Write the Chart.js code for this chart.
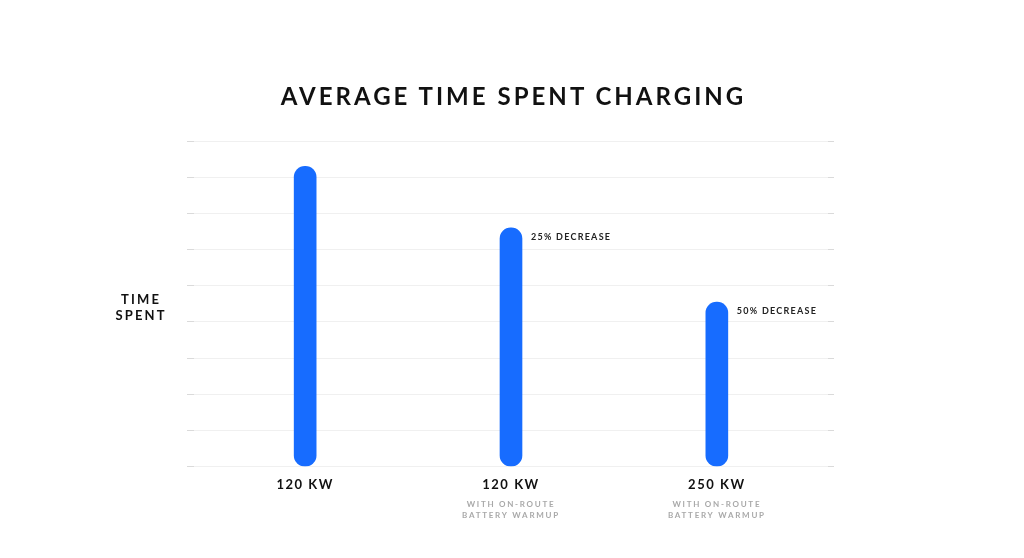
<!DOCTYPE html>
<html><head><meta charset="utf-8">
<script src="https://cdn.jsdelivr.net/npm/chart.js@4"></script>
<style>
html,body{margin:0;padding:0;background:#fff;}
#wrap{position:relative;width:1024px;height:558px;overflow:hidden;}
canvas{position:absolute;left:0;top:0;}
#title{position:absolute;left:0;width:1024px;top:80px;text-align:center;font:700 24px Lato;color:#111;line-height:32px;white-space:nowrap;}
#ytitle{position:absolute;left:90px;width:100px;top:291px;text-align:center;font:700 13px Lato;line-height:16px;color:#111;}
</style></head>
<body><div id="wrap"><canvas id="c" width="1024" height="558"></canvas><div id="title"></div><div id="ytitle"></div></div>
<script>
// ---- data ----
const chartTitle = 'AVERAGE TIME SPENT CHARGING';
const yAxisTitle = ['TIME', 'SPENT'];
const categories = ['120 KW', '120 KW', '250 KW'];
const subLabels = [[], ['WITH ON-ROUTE', 'BATTERY WARMUP'], ['WITH ON-ROUTE', 'BATTERY WARMUP']];
const timeSpent = [8.3, 6.6, 4.55];
const annotations = ['', '25% DECREASE', '50% DECREASE'];
const yMin = 0, yMax = 9, yStep = 1;

// ---- letter-spacing helper ----
const mctx = document.createElement('canvas').getContext('2d');
function fitSpacing(text, font, target) {
  mctx.font = font;
  const w = mctx.measureText(text).width;
  return Math.max(0, (target - w) / (text.length - 1));
}
const titleFont = '700 24px Lato';
const tickFontStr = 'bold 13px Lato';
const subFontStr = 'bold 8px Lato';
const annFontStr = 'bold 9px Lato';
const titleSp = fitSpacing(chartTitle, titleFont, 464);
const ySp = fitSpacing('SPENT', 'bold 13px Lato', 49);
const tickSp = fitSpacing('120 KW', tickFontStr, 56);
const subSp = fitSpacing('WITH ON-ROUTE', subFontStr, 87);
const annSp = fitSpacing('25% DECREASE', annFontStr, 79);

const t = document.getElementById('title');
t.textContent = chartTitle;
t.style.letterSpacing = titleSp + 'px';
t.style.paddingLeft = titleSp + 'px';
t.style.boxSizing = 'border-box';
const yt = document.getElementById('ytitle');
yt.innerHTML = yAxisTitle.join('<br>');
yt.style.letterSpacing = ySp + 'px';
yt.style.paddingLeft = ySp + 'px';
yt.style.boxSizing = 'border-box';

const xMin = -0.54, xMax = 2.54;
const setTicks = s => { s.ticks = categories.map((_, i) => ({ value: i })); };

const spacingPlugin = {
  id: 'spacing',
  beforeDraw(chart) {
    [['x', tickSp], ['x2', subSp]].forEach(([id, sp]) => {
      const s = chart.scales[id];
      if (s && !s._spWrapped) {
        const orig = s.drawLabels.bind(s);
        s.drawLabels = function (a) {
          const c = this.ctx; c.save();
          if ('letterSpacing' in c) c.letterSpacing = sp + 'px';
          orig(a); c.restore();
        };
        s._spWrapped = true;
      }
    });
  }
};
const annotPlugin = {
  id: 'annot',
  afterDatasetsDraw(chart) {
    const meta = chart.getDatasetMeta(0);
    const c = chart.ctx;
    c.save();
    c.font = annFontStr;
    c.fillStyle = '#222';
    c.textBaseline = 'middle';
    c.textAlign = 'left';
    if ('letterSpacing' in c) c.letterSpacing = annSp + 'px';
    meta.data.forEach((bar, i) => {
      if (!annotations[i]) return;
      const p = bar.getProps(['x', 'y', 'width'], true);
      c.fillText(annotations[i], p.x + p.width / 2 + 9, p.y + 9.5);
    });
    c.restore();
  }
};

new Chart(document.getElementById('c'), {
  type: 'bar',
  data: {
    datasets: [{
      data: timeSpent.map((v, i) => ({ x: i, y: v })),
      xAxisID: 'x', yAxisID: 'y',
      backgroundColor: '#176cff',
      barThickness: 22,
      borderRadius: 11,
      borderSkipped: false
    }]
  },
  options: {
    responsive: false,
    animation: false,
    layout: { padding: { left: 187, right: 190, top: 141, bottom: 33 } },
    plugins: { legend: { display: false }, tooltip: { enabled: false }, title: { display: false } },
    scales: {
      x: {
        type: 'linear', position: 'bottom', min: xMin, max: xMax, weight: 0, offset: false,
        grid: { display: false, drawTicks: false, offset: false }, border: { display: false },
        afterBuildTicks: setTicks,
        afterFit: s => { s.height = 28; },
        ticks: { autoSkip: false, maxRotation: 0, padding: 10.7, color: '#111',
          font: { family: 'Lato', size: 13, weight: 'bold', lineHeight: 1.2 },
          callback: v => categories[v] ?? '' }
      },
      x2: {
        type: 'linear', position: 'bottom', min: xMin, max: xMax, weight: 1, offset: false,
        grid: { display: false, drawTicks: false, offset: false }, border: { display: false },
        afterBuildTicks: setTicks,
        ticks: { autoSkip: false, maxRotation: 0, padding: 4, color: '#a9a9a9',
          font: { family: 'Lato', size: 8, weight: 'bold', lineHeight: 1.4 },
          callback: v => (subLabels[v] && subLabels[v].length) ? subLabels[v] : '' }
      },
      y: {
        min: yMin, max: yMax,
        ticks: { stepSize: yStep, display: false },
        grid: { color: '#f0f0f0', tickColor: '#dadada', tickLength: 7, lineWidth: 1 },
        border: { display: false }
      },
      y2: {
        position: 'right', min: yMin, max: yMax,
        ticks: { stepSize: yStep, display: false },
        grid: { drawOnChartArea: false, tickColor: '#dadada', tickLength: 6 },
        border: { display: false }
      }
    }
  },
  plugins: [spacingPlugin, annotPlugin]
});
</script>
</body></html>
